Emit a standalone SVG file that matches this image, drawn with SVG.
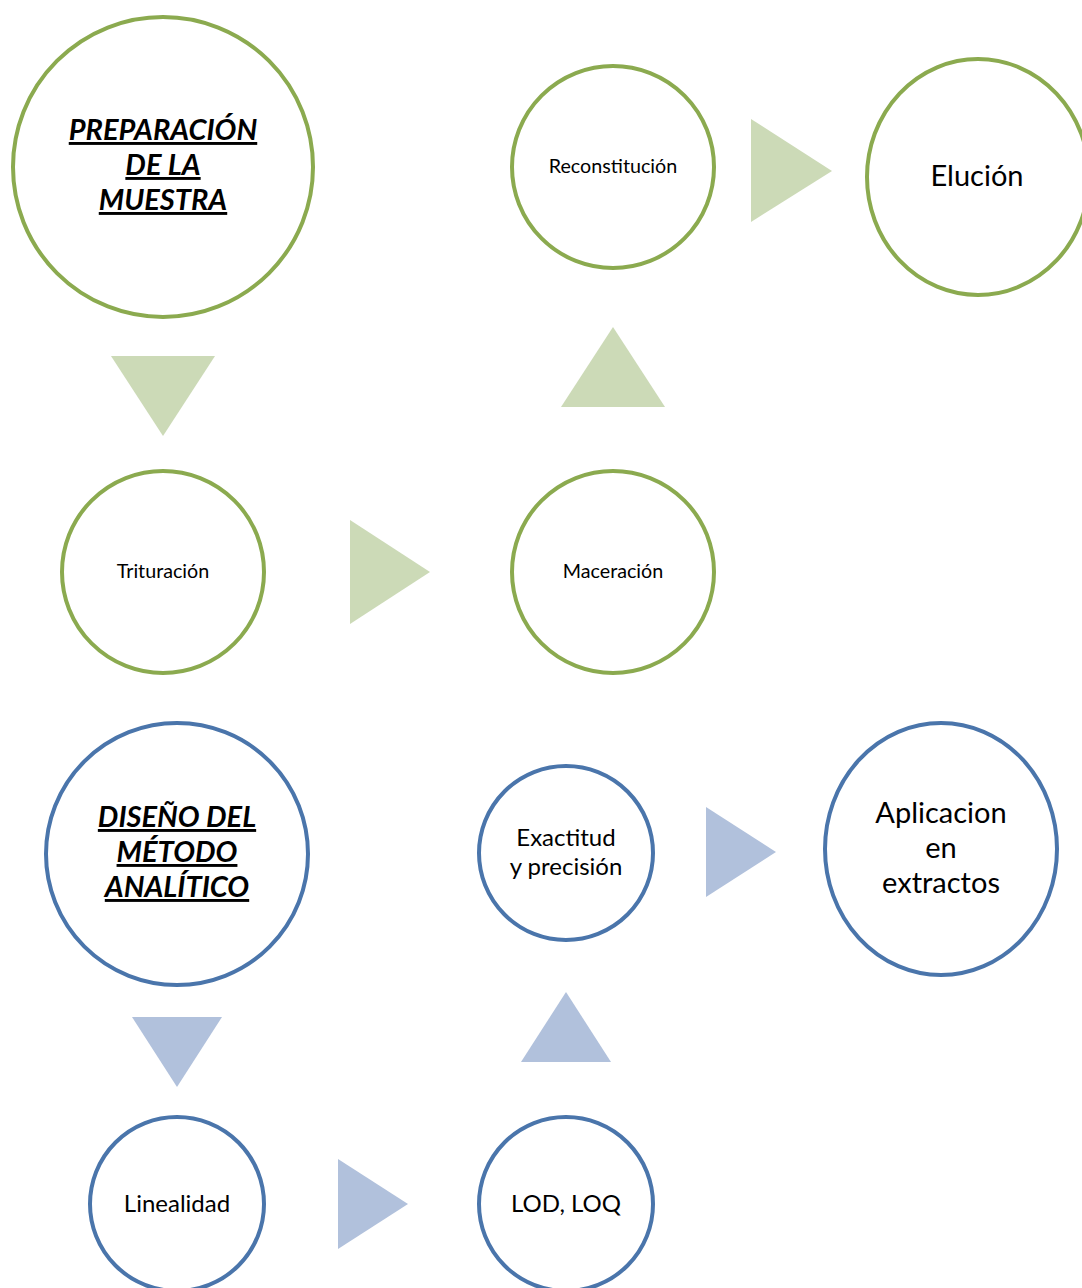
<svg xmlns="http://www.w3.org/2000/svg" width="1082" height="1288" viewBox="0 0 1082 1288">
<style>
.g{fill:#fff;stroke:#8BAA4F;stroke-width:4}
.b{fill:#fff;stroke:#4A75AB;stroke-width:4}
.ga{fill:#CCDAB7}
.ba{fill:#B1C1DC}
text{font-family:Lato,"Open Sans","Liberation Sans",sans-serif;fill:#000;text-anchor:middle}
.t{font-weight:bold;font-style:italic;text-decoration:underline;font-size:29px}
.s{font-size:19.7px}
.m{font-size:24px}
.l{font-size:29px}
</style>
<rect width="1082" height="1288" fill="#fff"/>
<g id="connectors">
<polygon class="ga" points="111,356 215,356 163,436"/>
<polygon class="ga" points="350,520 350,624 430,572"/>
<polygon class="ga" points="561,407 665,407 613,327"/>
<polygon class="ga" points="751,119 751,222 832,171"/>
<polygon class="ba" points="132,1017 222,1017 177,1087"/>
<polygon class="ba" points="338,1159 338,1249 408,1204"/>
<polygon class="ba" points="521,1062 611,1062 566,992"/>
<polygon class="ba" points="706,807 706,897 776,852"/>
</g>
<g id="preparacion">
<circle class="g" cx="163" cy="167" r="150"/>
<text class="t" x="163" y="140">PREPARACIÓN</text>
<text class="t" x="163" y="175">DE LA</text>
<text class="t" x="163" y="210">MUESTRA</text>
</g>
<g id="trituracion">
<circle class="g" cx="163" cy="572" r="101"/>
<text class="s" x="163" y="578">Trituración</text>
</g>
<g id="maceracion">
<circle class="g" cx="613" cy="572" r="101"/>
<text class="s" x="613" y="578">Maceración</text>
</g>
<g id="reconstitucion">
<circle class="g" cx="613" cy="167" r="101"/>
<text class="s" x="613" y="173">Reconstitución</text>
</g>
<g id="elucion">
<ellipse class="g" cx="978" cy="177" rx="111" ry="118"/>
<text class="l" x="977" y="186">Elución</text>
</g>
<g id="diseno">
<circle class="b" cx="177" cy="854" r="131"/>
<text class="t" x="177" y="827">DISEÑO DEL</text>
<text class="t" x="177" y="862">MÉTODO</text>
<text class="t" x="177" y="897">ANALÍTICO</text>
</g>
<g id="linealidad">
<circle class="b" cx="177" cy="1204" r="87"/>
<text class="m" x="177" y="1212">Linealidad</text>
</g>
<g id="lodloq">
<circle class="b" cx="566" cy="1204" r="87"/>
<text class="m" x="566" y="1212">LOD, LOQ</text>
</g>
<g id="exactitud">
<circle class="b" cx="566" cy="853" r="87"/>
<text class="m" x="566" y="846">Exactitud</text>
<text class="m" x="566" y="875">y precisión</text>
</g>
<g id="aplicacion">
<ellipse class="b" cx="941" cy="849" rx="116" ry="126"/>
<text class="l" x="941" y="823">Aplicacion</text>
<text class="l" x="941" y="858">en</text>
<text class="l" x="941" y="893">extractos</text>
</g>
</svg>
